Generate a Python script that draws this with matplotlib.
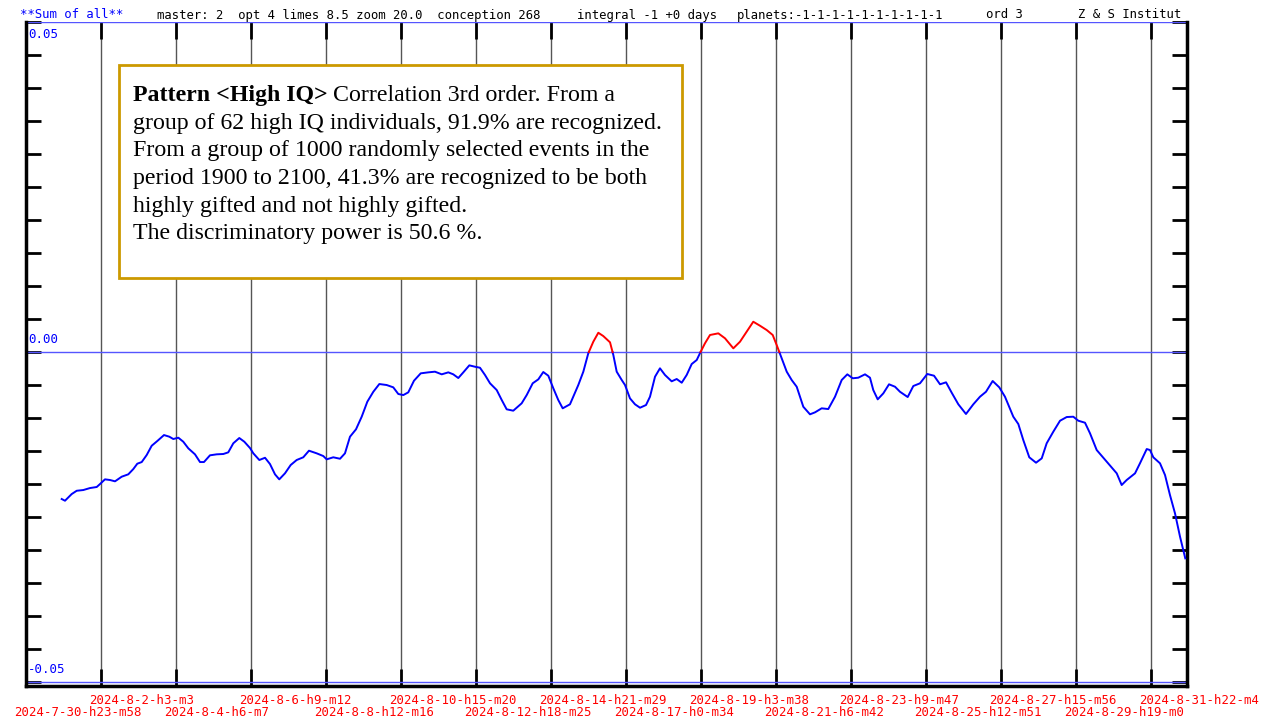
import numpy as np
import matplotlib
matplotlib.use("Agg")
import matplotlib.pyplot as plt

# positions in grid-interval units (1 interval = 2 d 3 h 4 min), values of the sum curve
t = [0.476, 0.520, 0.609, 0.676, 0.764, 0.853, 0.943, 0.987, 1.053, 1.120, 1.187, 1.276,
     1.364, 1.431, 1.484, 1.543, 1.609, 1.676, 1.751, 1.840, 1.911, 1.964, 2.031, 2.097,
     2.164, 2.253, 2.320, 2.373, 2.453, 2.543, 2.631, 2.697, 2.764, 2.844, 2.911, 2.987,
     3.031, 3.111, 3.187, 3.253, 3.320, 3.377, 3.453, 3.529, 3.609, 3.697, 3.773, 3.876,
     3.964, 4.009, 4.097, 4.187, 4.253, 4.320, 4.400, 4.476, 4.551, 4.631, 4.711, 4.809,
     4.897, 4.964, 5.031, 5.097, 5.173, 5.263, 5.364, 5.453, 5.543, 5.631, 5.697, 5.764,
     5.831, 5.911, 5.987, 6.053, 6.120, 6.187, 6.276, 6.343, 6.409, 6.497, 6.609, 6.676,
     6.756, 6.831, 6.897, 6.964, 7.031, 7.097, 7.156, 7.253, 7.297, 7.364, 7.431, 7.497,
     7.564, 7.631, 7.697, 7.787, 7.831, 7.876, 7.943, 7.987, 8.053, 8.120, 8.187, 8.267,
     8.320, 8.387, 8.453, 8.520, 8.609, 8.676, 8.743, 8.809, 8.876, 8.943, 8.996, 9.053,
     9.120, 9.231, 9.320, 9.431, 9.520, 9.609, 9.697, 9.787, 9.876, 9.956, 10.009, 10.076,
     10.143, 10.209, 10.276, 10.364, 10.453, 10.520, 10.609, 10.697, 10.787, 10.876, 10.951, 11.023,
     11.097, 11.187, 11.253, 11.297, 11.356, 11.431, 11.507, 11.587, 11.653, 11.756, 11.831, 11.920,
     12.017, 12.107, 12.187, 12.267, 12.343, 12.431, 12.533, 12.631, 12.720, 12.800, 12.889, 12.977,
     13.053, 13.164, 13.231, 13.297, 13.377, 13.467, 13.543, 13.609, 13.697, 13.787, 13.876, 13.964,
     14.031, 14.120, 14.187, 14.276, 14.409, 14.543, 14.609, 14.676, 14.787, 14.853, 14.943, 14.987,
     15.031, 15.120, 15.187, 15.253, 15.320, 15.387, 15.457]
val_milli = [-22.27, -22.53, -21.52, -21.02, -20.91, -20.61, -20.45, -20.00, -19.29, -19.39, -19.59, -18.89,
             -18.53, -17.73, -16.92, -16.67, -15.61, -14.20, -13.48, -12.58, -12.83, -13.18, -12.98, -13.59,
             -14.59, -15.50, -16.67, -16.67, -15.65, -15.50, -15.45, -15.20, -13.83, -13.03, -13.59, -14.55,
             -15.35, -16.36, -16.02, -16.97, -18.53, -19.29, -18.38, -17.12, -16.36, -15.95, -14.95, -15.35,
             -15.76, -16.26, -15.95, -16.17, -15.35, -12.83, -11.71, -9.80, -7.53, -6.02, -4.85, -5.00,
             -5.35, -6.36, -6.52, -6.11, -4.35, -3.23, -3.08, -2.98, -3.38, -3.08, -3.38, -3.94,
             -3.08, -2.02, -2.23, -2.38, -3.48, -4.74, -5.76, -7.27, -8.68, -8.89, -7.77, -6.52,
             -4.74, -4.14, -3.03, -3.59, -5.50, -7.27, -8.53, -7.92, -6.77, -5.00, -2.98, -0.20,
             1.56, 2.92, 2.42, 1.47, -0.45, -2.98, -4.24, -5.00, -7.02, -7.92, -8.44, -8.03,
             -6.77, -3.74, -2.47, -3.48, -4.44, -4.09, -4.65, -3.48, -1.82, -1.21, 0.05, 1.32,
             2.58, 2.83, 2.08, 0.56, 1.56, 3.08, 4.59, 3.98, 3.33, 2.58, 1.06, -0.95,
             -2.98, -4.24, -5.26, -8.29, -9.44, -9.14, -8.53, -8.64, -6.77, -4.24, -3.38, -3.98,
             -3.89, -3.38, -3.89, -5.76, -7.17, -6.26, -4.89, -5.26, -6.02, -6.82, -5.15, -4.74,
             -3.33, -3.59, -4.89, -4.59, -6.17, -7.92, -9.39, -7.92, -6.77, -6.02, -4.39, -5.35,
             -6.77, -9.80, -10.91, -13.33, -15.95, -16.77, -16.11, -13.83, -12.08, -10.41, -9.85, -9.80,
             -10.41, -10.71, -12.32, -14.85, -16.62, -18.38, -20.15, -19.39, -18.38, -16.86, -14.70, -14.85,
             -15.95, -16.86, -18.64, -21.67, -24.44, -27.98, -31.26]

tick_labels = ["2024-7-30-h23-m58", "2024-8-2-h3-m3", "2024-8-4-h6-m7", "2024-8-6-h9-m12",
               "2024-8-8-h12-m16", "2024-8-10-h15-m20", "2024-8-12-h18-m25", "2024-8-14-h21-m29",
               "2024-8-17-h0-m34", "2024-8-19-h3-m38", "2024-8-21-h6-m42", "2024-8-23-h9-m47",
               "2024-8-25-h12-m51", "2024-8-27-h15-m56", "2024-8-29-h19-m0", "2024-8-31-h22-m4"]

info_lines = ["group of 62 high IQ individuals, 91.9% are recognized.",
              "From a group of 1000 randomly selected events in the",
              "period 1900 to 2100, 41.3% are recognized to be both",
              "highly gifted and not highly gifted.",
              "The discriminatory power is 50.6 %."]

W, H = 1263, 719
MONO = "DejaVu Sans Mono"
SERIF = "Liberation Serif"


def fx(x):
    return x / W


def fy(y):
    return 1 - y / H


fig = plt.figure(figsize=(W / 100, H / 100), dpi=100)
ax = fig.add_axes([fx(26), fy(686), fx(1187) - fx(26), fy(22) - fy(686)])
ax.set_xlim(0, 15.48)
ax.set_ylim(-0.0506, 0.05)

# split the curve into parts above and below zero, adding the crossing points
t = np.array(t)
val = np.array(val_milli) / 1000
xs, ys = [t[0]], [val[0]]
for i in range(1, len(t)):
    if (val[i - 1] > 0) != (val[i] > 0):
        f = val[i - 1] / (val[i - 1] - val[i])
        xs.append(t[i - 1] + f * (t[i] - t[i - 1]))
        ys.append(0.0)
    xs.append(t[i])
    ys.append(val[i])
xs, ys = np.array(xs), np.array(ys)
blue = np.where(ys <= 0, ys, np.nan)
red = np.where(ys >= 0, ys, np.nan)

for k in range(1, 16):
    ax.axvline(k, color="#555555", lw=1, zorder=1)
for yv in (0.05, 0.0, -0.05):
    ax.axhline(yv, color="#5555ff", lw=1, zorder=2)

ax.plot(xs, blue, color="#0000ff", lw=1.4, zorder=4)
ax.plot(xs, red, color="#ff0000", lw=1.4, zorder=4)

for s in ("left", "right", "bottom"):
    ax.spines[s].set_linewidth(2.5)
    ax.spines[s].set_color("black")
ax.spines["top"].set_visible(False)

ax.set_yticks(np.arange(-0.05, 0.0501, 0.005))
ax.set_xticks(range(1, 16))
ax.tick_params(axis="y", direction="in", length=10.5, width=2, left=True, right=True,
               labelleft=False, labelright=False, color="black")
ax.tick_params(axis="x", direction="in", length=12, width=2, top=True, bottom=True,
               labelbottom=False, labeltop=False, color="black")

# y labels inside the plot
for yv, lab, dy in ((0.05, "0.05", -19), (0.0, "0.00", 6), (-0.05, "-0.05", 6)):
    ax.annotate(lab, xy=(0, yv), xytext=(2, dy), textcoords="offset pixels",
                color="#0000ff", fontsize=9, family=MONO, ha="left", va="bottom")

# date labels in two rows
for k, lab in enumerate(tick_labels):
    row_y = 700 if k % 2 == 1 else 713
    fig.text(fx(26 + 75 * k - 12), fy(row_y), lab, color="#ff0000", fontsize=8.9,
             family=MONO, ha="left", va="center")

# header line
fig.text(fx(20), fy(15), "**Sum of all**", color="#0000ff", fontsize=8.8, family=MONO, va="center")
header = [(157, "master: 2  opt 4 limes 8.5 zoom 20.0  conception 268"),
          (577, "integral -1 +0 days"),
          (737, "planets:-1-1-1-1-1-1-1-1-1-1"),
          (986, "ord 3"),
          (1078, "Z & S Institut")]
for hx, htxt in header:
    fig.text(fx(hx), fy(15), htxt, color="black", fontsize=8.8, family=MONO, va="center")

# information box
box = plt.Rectangle((fx(119), fy(278)), fx(682) - fx(119), fy(65) - fy(278),
                    transform=fig.transFigure, fill=True, facecolor="white",
                    edgecolor="#cc9900", lw=2, zorder=10)
fig.patches.append(box)

base = 101
step = 27.7
fs = 17.2
bold = fig.text(fx(133), fy(base), "Pattern <High IQ>", fontsize=fs, family=SERIF,
                weight="bold", va="baseline", zorder=11)
fig.canvas.draw()
bb = bold.get_window_extent(renderer=fig.canvas.get_renderer())
fig.text(bb.x1 / W + fx(5), fy(base), "Correlation 3rd order. From a", fontsize=fs,
         family=SERIF, va="baseline", zorder=11)
for i, line in enumerate(info_lines):
    fig.text(fx(133), fy(base + step * (i + 1)), line, fontsize=fs, family=SERIF,
             va="baseline", zorder=11)

fig.savefig("out.png", dpi=100)
